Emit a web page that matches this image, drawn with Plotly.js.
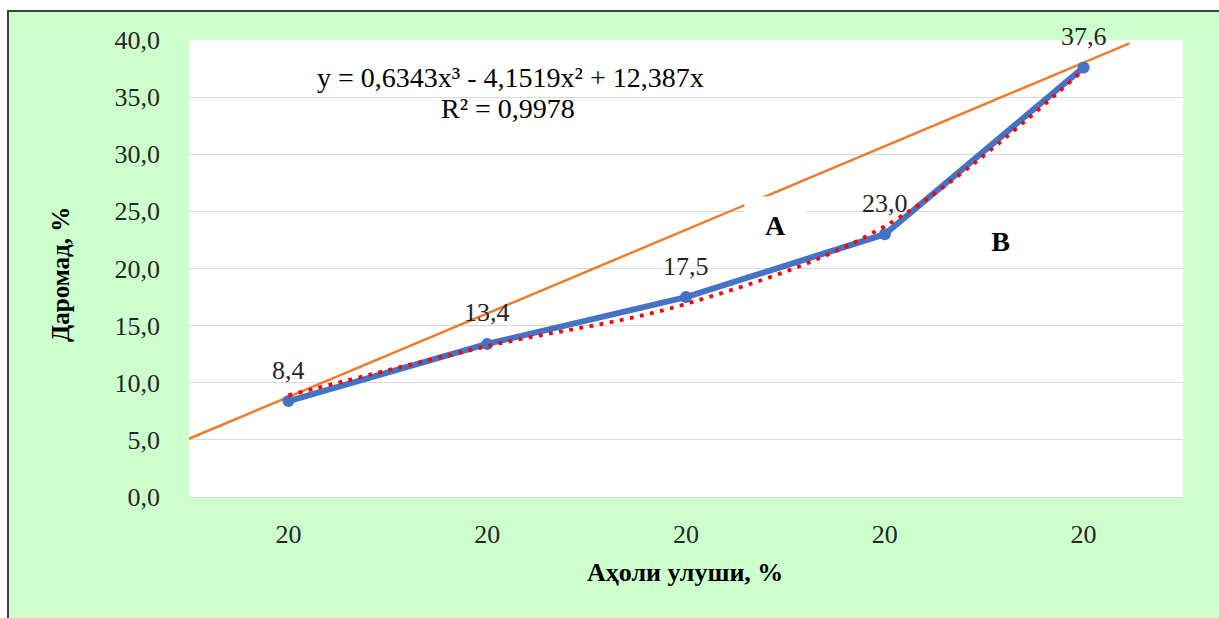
<!DOCTYPE html>
<html>
<head>
<meta charset="utf-8">
<script src="https://cdn.plot.ly/plotly-3.0.1.min.js"></script>
<style>
  html, body { margin: 0; padding: 0; background: #ffffff; width: 1219px; height: 618px; overflow: hidden; }
  #frame { position: absolute; left: 7px; top: 10px; border-left: 2px solid #404040; border-top: 2px solid #404040; width: 1210px; height: 606px; background: #CCFFCC; }
  #chart { width: 1210px; height: 606px; }
</style>
</head>
<body>
<div id="frame"><div id="chart"></div></div>
<script>
// ---- data ----
const categories = ["20", "20", "20", "20", "20"];
const incomeShare = [8.4, 13.4, 17.5, 23.0, 37.6];          // blue series
const incomeLabels = ["8,4", "13,4", "17,5", "23,0", "37,6"];
const polyTrend = [8.9, 13.2, 16.9, 23.7, 37.4];             // red dotted trend
const equalityX = [-0.5, 4.23];                               // orange straight line ends
const equalityY = [5.1, 39.7];
const yTicks = [0, 5, 10, 15, 20, 25, 30, 35, 40];
const equationText = "y = 0,6343x³ - 4,1519x² + 12,387x";
const r2Text = "R² = 0,9978";
const yTitle = "Даромад, %";
const xTitle = "Аҳоли улуши, %";

const idx = categories.map((c, i) => i);
const serif = "'Liberation Serif', 'Times New Roman', serif";

const traces = [
  {
    x: equalityX, y: equalityY, mode: "lines", type: "scatter",
    line: { color: "#ED7D31", width: 2.5 }, hoverinfo: "skip"
  },
  {
    x: idx, y: incomeShare, mode: "lines+markers", type: "scatter",
    line: { color: "#4472C4", width: 6 },
    marker: { color: "#4472C4", size: 12 }
  },
  {
    x: idx, y: polyTrend, mode: "lines", type: "scatter",
    line: { color: "#FF0000", width: 3.8, dash: "3.8px,6.5px", shape: "spline", smoothing: 1 }
  }
];

const annotations = [];
idx.forEach(i => {
  annotations.push({
    x: i, y: incomeShare[i], xref: "x", yref: "y", text: incomeLabels[i],
    xanchor: "center", yanchor: "middle",
    showarrow: false, yshift: 31, font: { family: serif, size: 26, color: "#262626" }
  });
});
annotations.push({
  x: 0.323, y: 0.917, xref: "paper", yref: "paper", text: equationText, showarrow: false,
  xanchor: "center", yanchor: "middle",
  font: { family: serif, size: 28, color: "#000000" }
});
annotations.push({
  x: 0.321, y: 0.851, xref: "paper", yref: "paper", text: r2Text, showarrow: false,
  xanchor: "center", yanchor: "middle",
  font: { family: serif, size: 28, color: "#000000" }
});
annotations.push({
  x: 2.448, y: 23.8, xref: "x", yref: "y", text: "<b>A</b>", showarrow: false,
  xanchor: "center", yanchor: "middle",
  bgcolor: "#FFFFFF", width: 61, height: 57, borderpad: 0,
  font: { family: serif, size: 28, color: "#000000" }
});
annotations.push({
  x: 3.58, y: 22.4, xref: "x", yref: "y", text: "<b>B</b>", showarrow: false,
  xanchor: "center", yanchor: "middle",
  bgcolor: "#FFFFFF", width: 53, height: 51, borderpad: 0,
  font: { family: serif, size: 28, color: "#000000" }
});
annotations.push({
  x: -0.1288, y: 0.488, xref: "paper", yref: "paper", text: "<b>" + yTitle + "</b>", showarrow: false,
  xanchor: "center", yanchor: "middle",
  textangle: -90, font: { family: serif, size: 25, color: "#000000" }
});
annotations.push({
  x: 0.499, y: -0.166, xref: "paper", yref: "paper", text: "<b>" + xTitle + "</b>", showarrow: false,
  xanchor: "center", yanchor: "middle",
  font: { family: serif, size: 26, color: "#000000" }
});

const layout = {
  width: 1210, height: 606,
  margin: { l: 180, r: 36, t: 28, b: 121 },
  paper_bgcolor: "#CCFFCC",
  plot_bgcolor: "#FFFFFF",
  showlegend: false,
  separators: ", ",
  xaxis: {
    range: [-0.5, 4.5], tickvals: idx, ticktext: categories,
    showgrid: false, zeroline: false, showline: true, linecolor: "#D9D9D9", linewidth: 1,
    ticks: "", ticklabelstandoff: 14,
    tickfont: { family: serif, size: 26, color: "#262626" }
  },
  yaxis: {
    range: [0, 40], tickvals: yTicks, tickformat: ".1f",
    showgrid: true, gridcolor: "#D9D9D9", gridwidth: 1, zeroline: false, showline: false,
    ticks: "", ticklabelstandoff: 28,
    tickfont: { family: serif, size: 26, color: "#262626" }
  },
  annotations: annotations
};

Plotly.newPlot("chart", traces, layout, { displayModeBar: false, staticPlot: true });
</script>
</body>
</html>
